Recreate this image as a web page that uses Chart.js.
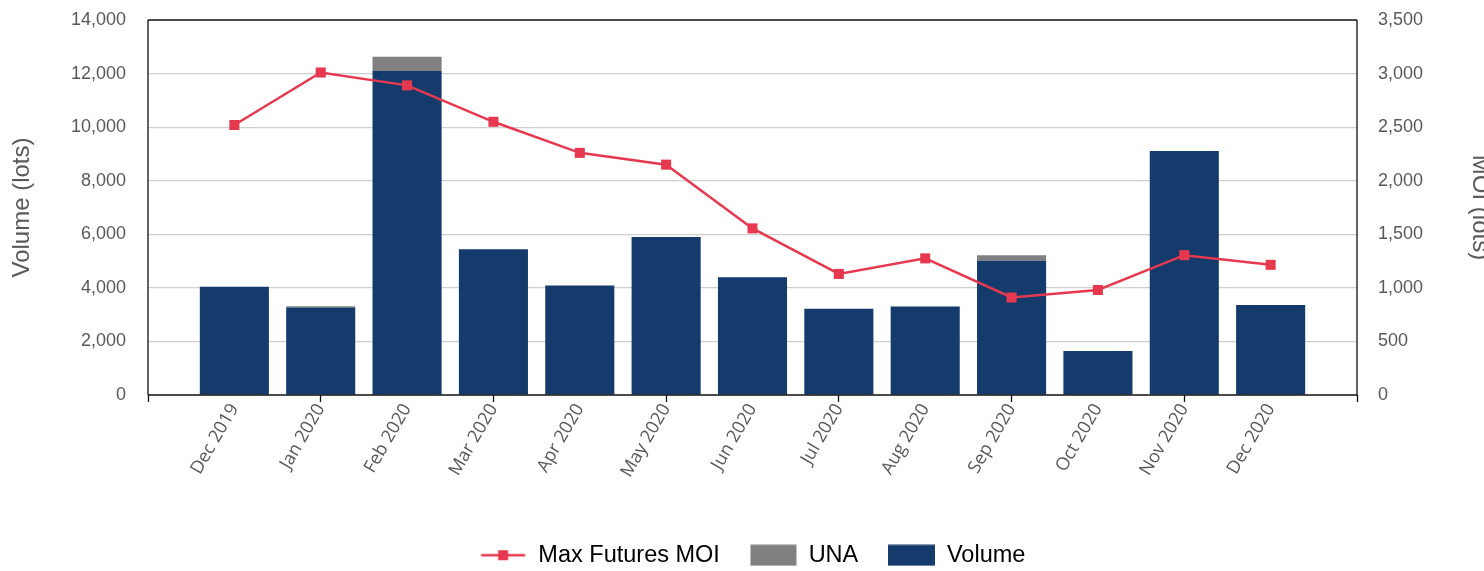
<!DOCTYPE html>
<html>
<head>
<meta charset="utf-8">
<script src="https://cdn.jsdelivr.net/npm/chart.js@4"></script>
<style>
  html, body { margin: 0; padding: 0; overflow: hidden; background: #fff; }
  #wrap { width: 1494px; height: 577px; }
</style>
</head>
<body>
<div id="wrap"><canvas id="c" width="1494" height="577"></canvas></div>
<script>
const categories = ['Dec 2019','Jan 2020','Feb 2020','Mar 2020','Apr 2020','May 2020','Jun 2020','Jul 2020','Aug 2020','Sep 2020','Oct 2020','Nov 2020','Dec 2020'];
const volume = [4040, 3270, 12100, 5440, 4090, 5900, 4400, 3220, 3300, 5010, 1645, 9110, 3360];
const una = [0, 40, 530, 0, 0, 0, 0, 0, 0, 210, 0, 0, 0];
const maxFuturesMOI = [2520, 3010, 2890, 2550, 2260, 2150, 1555, 1130, 1275, 910, 980, 1305, 1215];
const leftTicks = [0, 2000, 4000, 6000, 8000, 10000, 12000, 14000];
const rightTicks = [0, 500, 1000, 1500, 2000, 2500, 3000, 3500];

// The x axis in the reference runs one step beyond the first and last month;
// pad it with one empty slot on each side.
const pad = (arr) => [null, ...arr, null];
const xLabels = ['', ...categories, ''];

const RED = '#E63950', NAVY = '#143B6B', GRAY = '#808080', AXISTXT = '#595959';

function legendImg(kind) {
  const c = document.createElement('canvas');
  c.width = 47; c.height = 22;
  const g = c.getContext('2d');
  if (kind === 'line') {
    g.strokeStyle = RED; g.lineWidth = 2.5;
    g.beginPath(); g.moveTo(1.5, 11); g.lineTo(45.5, 11); g.stroke();
    g.fillStyle = RED; g.fillRect(18.5, 6, 10, 10);
  } else {
    g.fillStyle = kind === 'una' ? GRAY : NAVY;
    g.fillRect(kind === 'una' ? 0.5 : 0, 0.5, kind === 'una' ? 46 : 47, 21);
  }
  return c;
}
const legendImgs = { line: legendImg('line'), una: legendImg('una'), vol: legendImg('vol') };

const framePlugin = {
  id: 'frame',
  afterDatasetsDraw(chart) {
    const { ctx, chartArea: a } = chart;
    ctx.save();
    ctx.strokeStyle = '#111';
    ctx.lineWidth = 1.3;
    ctx.beginPath();
    ctx.moveTo(a.left, a.top); ctx.lineTo(a.right, a.top);
    ctx.moveTo(a.left, a.bottom); ctx.lineTo(a.right, a.bottom);
    ctx.moveTo(a.left, a.top); ctx.lineTo(a.left, a.bottom);
    ctx.moveTo(a.right, a.top); ctx.lineTo(a.right, a.bottom);
    ctx.stroke();
    ctx.restore();
  }
};

function fixVertical(width) {
  return (s) => { s.width = width; s.paddingTop = 10; s.paddingBottom = 10; };
}

new Chart(document.getElementById('c'), {
  type: 'bar',
  data: {
    labels: xLabels,
    datasets: [
      { type: 'line', label: 'Max Futures MOI', data: pad(maxFuturesMOI), yAxisID: 'y1', order: 0,
        borderColor: RED, backgroundColor: RED, borderWidth: 2.5, pointStyle: 'rect',
        pointRadius: 7.1, pointHoverRadius: 7.1, pointBorderWidth: 0, tension: 0, spanGaps: false },
      { label: 'Volume', data: pad(volume), yAxisID: 'y', order: 1, backgroundColor: NAVY,
        barPercentage: 0.8, categoryPercentage: 1, stack: 's' },
      { label: 'UNA', data: pad(una), yAxisID: 'y', order: 1, backgroundColor: GRAY,
        barPercentage: 0.8, categoryPercentage: 1, stack: 's' }
    ]
  },
  options: {
    responsive: false,
    animation: false,
    devicePixelRatio: 1,
    layout: { padding: { top: 20, left: 0, right: 0, bottom: 0 } },
    plugins: {
      tooltip: { enabled: false },
      legend: {
        position: 'bottom',
        fullSize: false,
        labels: {
          usePointStyle: true,
          pointStyleWidth: 47,
          boxHeight: 22,
          padding: 30,
          color: '#000',
          font: { family: 'Liberation Sans, Arial, sans-serif', size: 23.5 },
          generateLabels() {
            return [
              { text: 'Max Futures MOI', pointStyle: legendImgs.line, datasetIndex: 0, hidden: false, fontColor: '#000', lineWidth: 0, strokeStyle: 'transparent', fillStyle: RED },
              { text: 'UNA', pointStyle: legendImgs.una, datasetIndex: 2, hidden: false, fontColor: '#000', lineWidth: 0, strokeStyle: 'transparent', fillStyle: GRAY },
              { text: 'Volume', pointStyle: legendImgs.vol, datasetIndex: 1, hidden: false, fontColor: '#000', lineWidth: 0, strokeStyle: 'transparent', fillStyle: NAVY }
            ];
          }
        }
      }
    },
    scales: {
      x: {
        stacked: true,
        offset: false,
        border: { display: false },
        grid: {
          offset: false,
          drawOnChartArea: false,
          drawTicks: true,
          tickLength: 7,
          tickWidth: 1.3,
          tickColor: (ctx) => (ctx.index % 2 === 0 ? '#111' : 'rgba(0,0,0,0)')
        },
        ticks: {
          autoSkip: false,
          maxRotation: 60,
          minRotation: 60,
          padding: -2,
          color: AXISTXT,
          font: { family: 'Open Sans, sans-serif', size: 18 }
        },
        afterFit: (s) => { s.height = 118.5; }
      },
      y: {
        position: 'left',
        stacked: true,
        min: 0, max: 14000,
        border: { display: false },
        grid: {
          drawTicks: false,
          color: (ctx) => (ctx.tick && (ctx.tick.value === 0 || ctx.tick.value === 14000) ? 'rgba(0,0,0,0)' : '#cfcfcf'),
          lineWidth: 1.2
        },
        afterBuildTicks: (s) => { s.ticks = leftTicks.map(v => ({ value: v })); },
        ticks: {
          padding: 22,
          color: AXISTXT,
          font: { family: 'Liberation Sans, Arial, sans-serif', size: 18 },
          callback: (v) => Number(v).toLocaleString('en-US')
        },
        title: {
          display: true,
          text: 'Volume (lots)',
          color: AXISTXT,
          padding: { top: 8, bottom: 0 },
          font: { family: 'Liberation Sans, Arial, sans-serif', size: 24 }
        },
        afterFit: fixVertical(148)
      },
      y1: {
        position: 'right',
        min: 0, max: 3500,
        border: { display: false },
        grid: { drawOnChartArea: false, drawTicks: false },
        afterBuildTicks: (s) => { s.ticks = rightTicks.map(v => ({ value: v })); },
        ticks: {
          padding: 21,
          color: AXISTXT,
          font: { family: 'Liberation Sans, Arial, sans-serif', size: 18 },
          callback: (v) => Number(v).toLocaleString('en-US')
        },
        title: {
          display: true,
          text: 'MOI (lots)',
          color: AXISTXT,
          padding: { top: 0, bottom: 0 },
          font: { family: 'Liberation Sans, Arial, sans-serif', size: 24 }
        },
        afterFit: fixVertical(137)
      }
    }
  },
  plugins: [framePlugin]
});
</script>
</body>
</html>
